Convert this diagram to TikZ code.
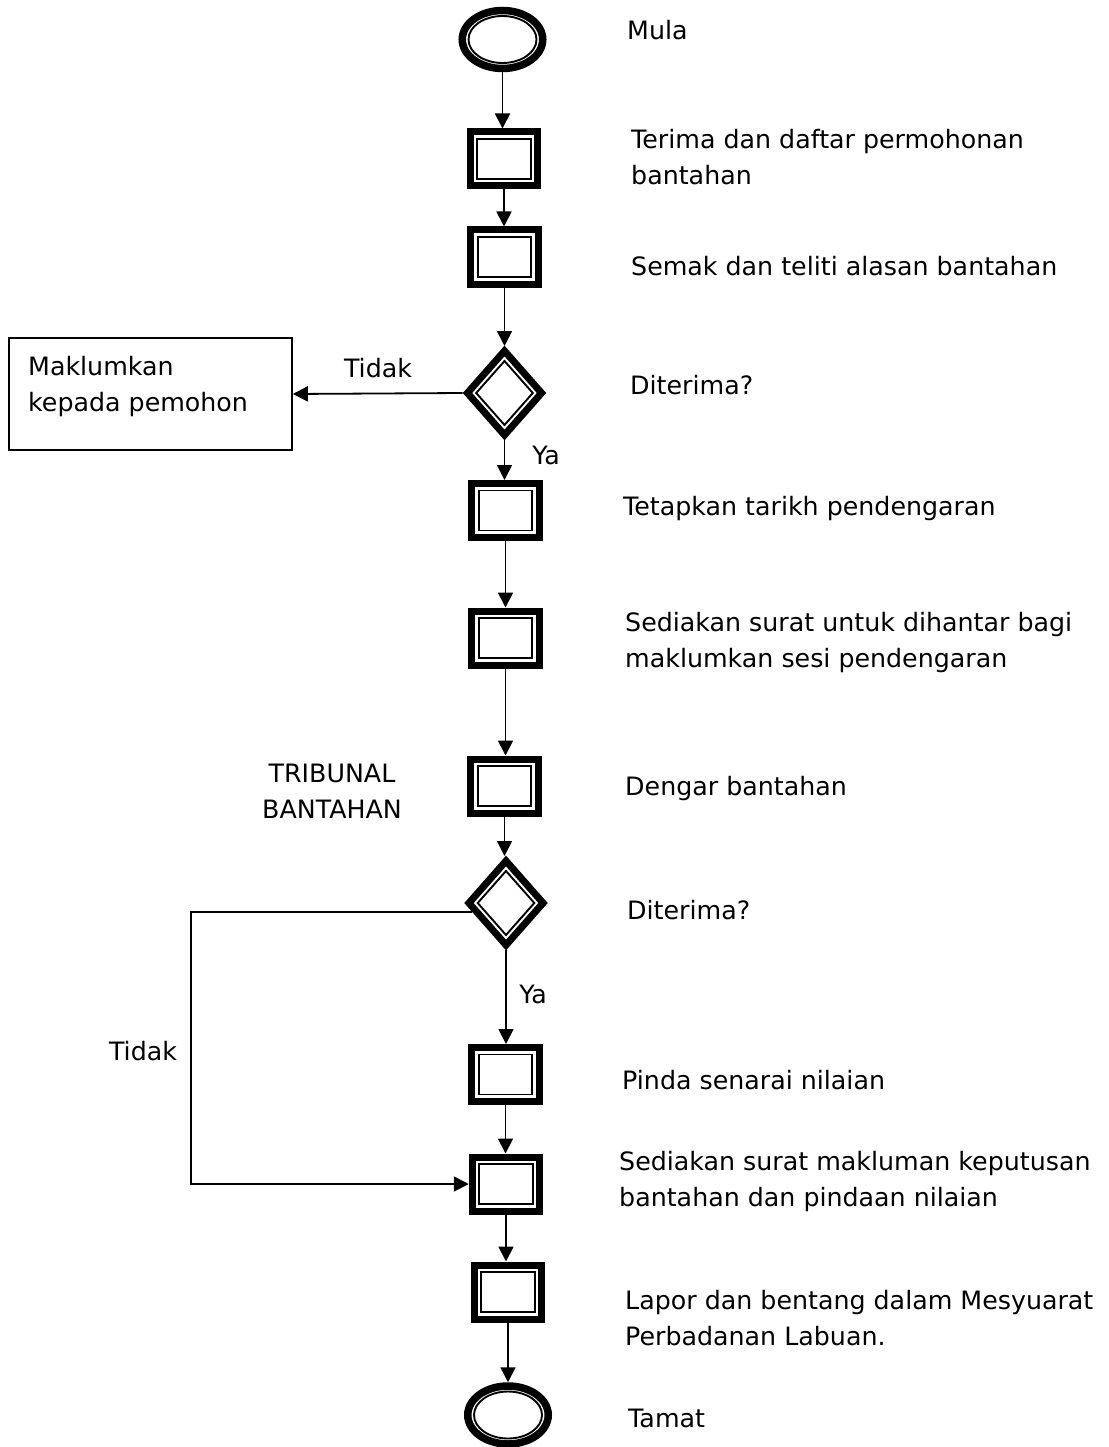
\documentclass[tikz,border=0pt]{standalone}
\usepackage{fontspec}
\setmainfont{DejaVu Sans}
\usetikzlibrary{shapes.geometric, arrows.meta}

\tikzset{
  conn/.style={line width=1.8pt, -{Triangle[width=15pt,length=15pt]}},
  plain/.style={draw, line width=1.6pt, rectangle, inner sep=0pt},
  lbl/.style={anchor=west, inner sep=0pt, align=left, font=\fontsize{25.3}{36}\selectfont},
  clbl/.style={anchor=center, inner sep=0pt, align=center, font=\fontsize{25.3}{36}\selectfont},
  procbox/.style={rectangle, draw, fill=white, line width=7pt, minimum width=67.5pt, minimum height=54pt, inner sep=0pt,
    path picture={\draw[line width=1.9pt] ([shift={(7pt,7pt)}]path picture bounding box.south west) rectangle ([shift={(-7pt,-7pt)}]path picture bounding box.north east);}},
  term/.style={ellipse, draw, fill=white, line width=7.5pt, minimum width=80.5pt, minimum height=58pt, inner sep=0pt,
    path picture={\draw[line width=1.9pt] (path picture bounding box.center) ellipse [x radius=34pt, y radius=23.5pt];}},
  decision/.style={diamond, draw, fill=white, line width=7pt, minimum width=77pt, minimum height=87pt, inner sep=0pt,
    path picture={\draw[line width=1.9pt] ([xshift=-28.3pt]path picture bounding box.center) -- ([yshift=32pt]path picture bounding box.center) -- ([xshift=28.3pt]path picture bounding box.center) -- ([yshift=-32pt]path picture bounding box.center) -- cycle;}}
}

\begin{document}
\begin{tikzpicture}[x=1pt, y=-1pt]
\useasboundingbox (0,0) rectangle (1108,1447);

% flow nodes
\node[term] (start) at (502.5,39.5) {};
\node[procbox] (b1) at (504,159) {};
\node[procbox] (b2) at (504.5,257) {};
\node[decision] (d1) at (504.5,393) {};
\node[procbox] (b3) at (505.5,510.5) {};
\node[procbox] (b4) at (505.5,638) {};
\node[procbox] (b5) at (504.5,786) {};
\node[decision] (d2) at (506,903) {};
\node[procbox] (b6) at (505.5,1074.5) {};
\node[procbox] (b7) at (506,1184) {};
\node[procbox] (b8) at (508,1292) {};
\node[term] (end) at (508,1415) {};

% side box
\node[plain, minimum width=283pt, minimum height=112pt] (mak) at (150.5,394) {};
\node[lbl] (makt) at (28,386.5) {Maklumkan\\kepada pemohon};

\coordinate (lt) at (191,1000);

% connectors
\draw[conn] (start.south) -- (start.south |- b1.north);
\draw[conn] (b1.south) -- (b1.south |- b2.north);
\draw[conn] (b2.south) -- (b2.south |- d1.north);
\draw[conn] (d1.south) -- (d1.south |- b3.north);
\draw[conn] (d1.west) -- (mak.east);
\draw[conn] (b3.south) -- (b3.south |- b4.north);
\draw[conn] (b4.south) -- (b4.south |- b5.north);
\draw[conn] (b5.south) -- (b5.south |- d2.north);
\draw[conn] (d2.south) -- (d2.south |- b6.north);
\draw[conn] (b6.south) -- (b6.south |- b7.north);
\draw[conn] (d2.195) -| (lt |- b7.west) -- (b7.west);
\draw[conn] (b7.south) -- (b7.south |- b8.north);
\draw[conn] (b8.south) -- (b8.south |- end.north);

% connector labels
\node[clbl] (ltid1) at (378,368) {Tidak};
\node[clbl] (lya1) at (546,455) {Ya};
\node[clbl] (lya2) at (533,994) {Ya};
\node[clbl] (ltid2) at (143,1051) {Tidak};
\node[clbl] (trib) at (332,791) {TRIBUNAL\\BANTAHAN};

% step descriptions
\node[lbl] (tm) at (627,30) {Mula};
\node[lbl] (t1) at (631,157.5) {Terima dan daftar permohonan\\bantahan};
\node[lbl] (t2) at (631,266) {Semak dan teliti alasan bantahan};
\node[lbl] (t3) at (630,385) {Diterima?};
\node[lbl] (t4) at (623,509) {Tetapkan tarikh pendengaran};
\node[lbl] (t5) at (625,643) {Sediakan surat untuk dihantar bagi\\maklumkan sesi pendengaran};
\node[lbl] (t6) at (625,789) {Dengar bantahan};
\node[lbl] (t7) at (627,910) {Diterima?};
\node[lbl] (t8) at (622,1080) {Pinda senarai nilaian};
\node[lbl] (t9) at (619,1182) {Sediakan surat makluman keputusan\\bantahan dan pindaan nilaian};
\node[lbl] (t10) at (625,1318) {Lapor dan bentang dalam Mesyuarat\\Perbadanan Labuan.};
\node[lbl] (t11) at (628,1418) {Tamat};
\end{tikzpicture}
\end{document}
